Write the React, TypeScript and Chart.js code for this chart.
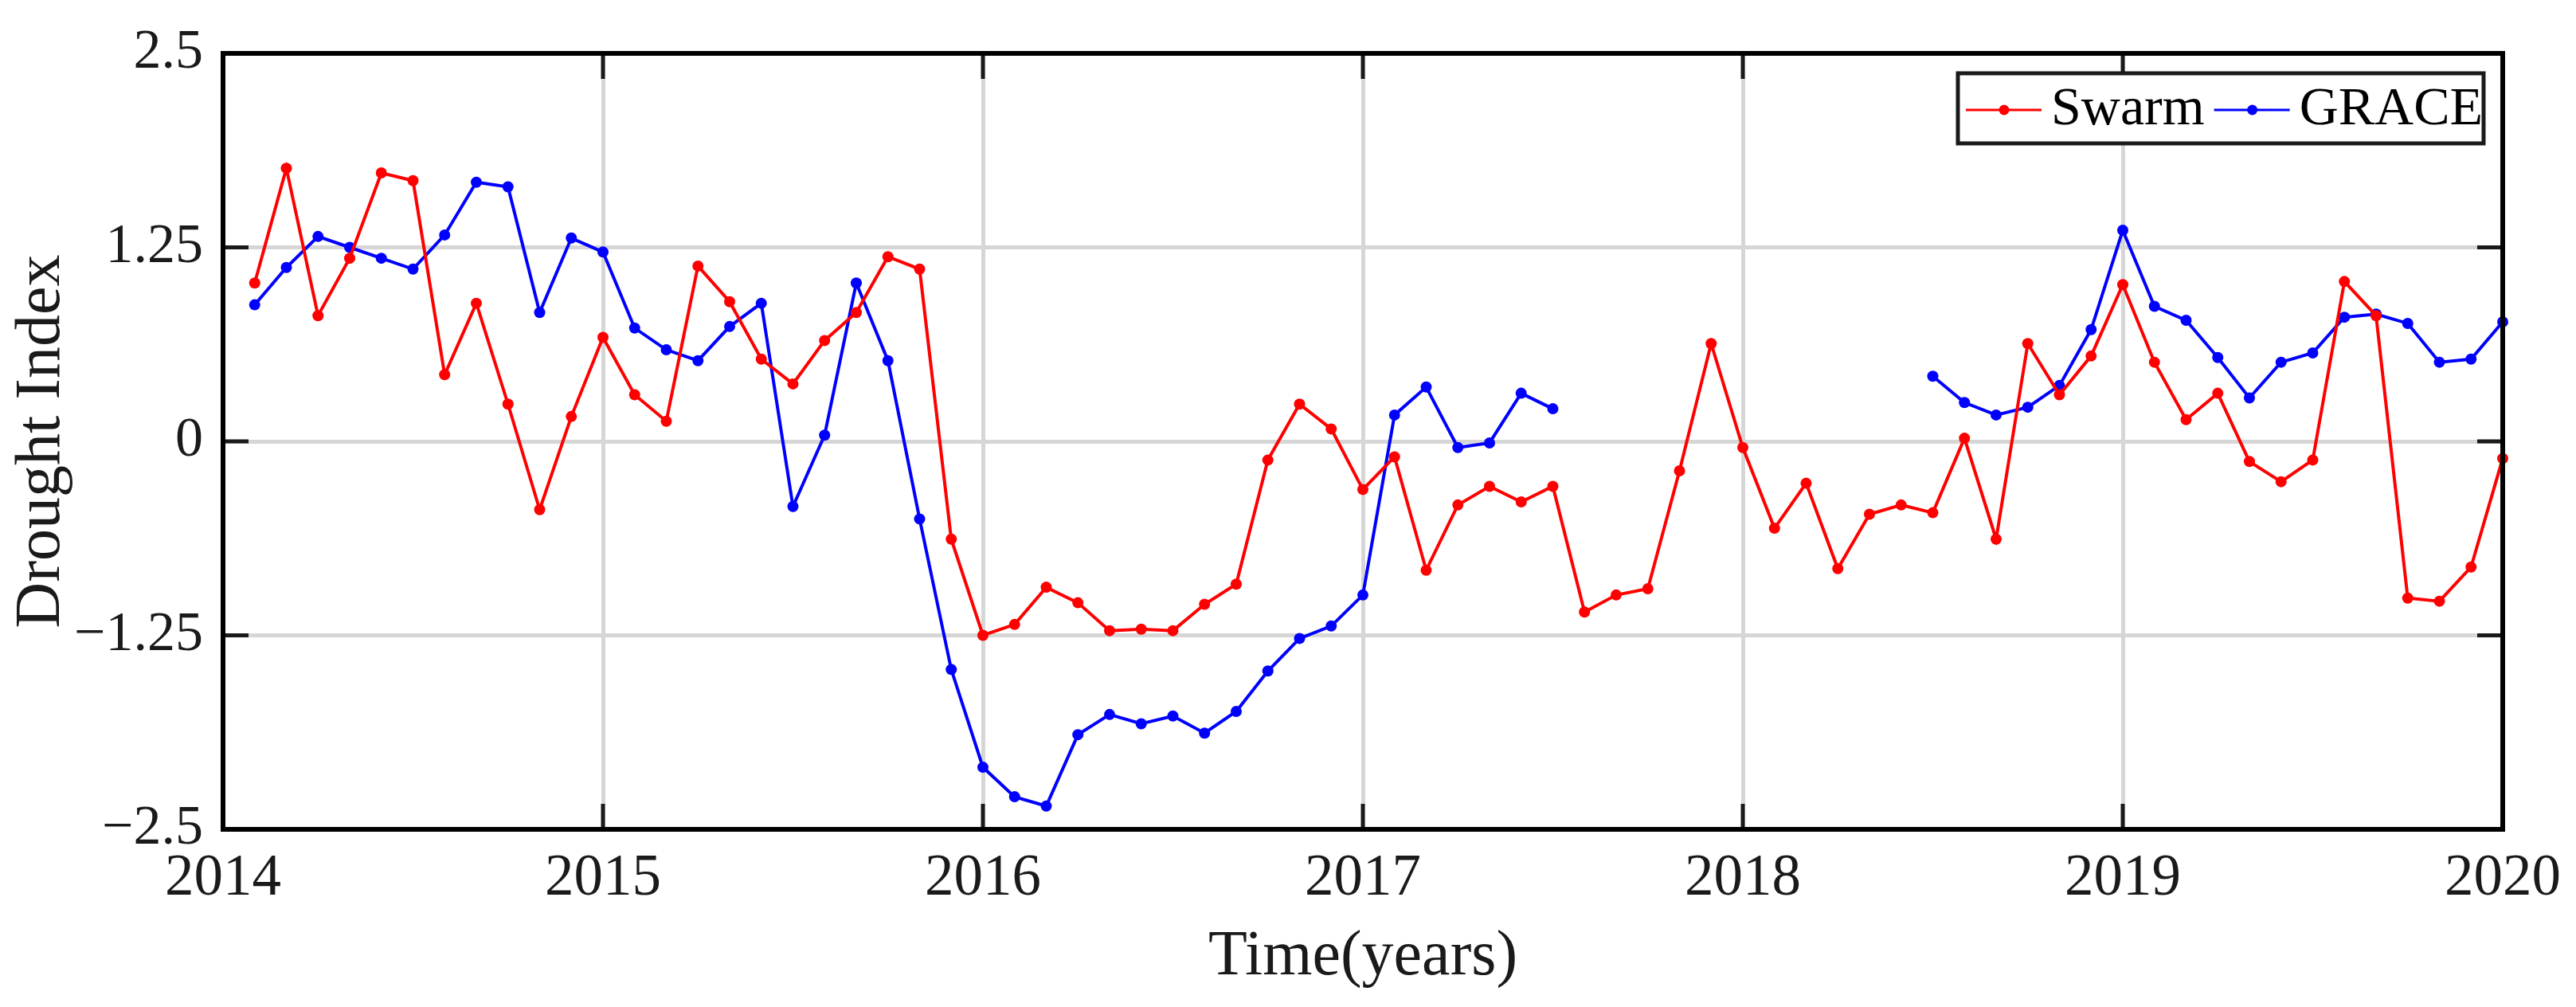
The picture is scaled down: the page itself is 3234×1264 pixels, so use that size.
import React, { useEffect, useRef } from "react";
import { Chart, registerables } from "chart.js";

Chart.register(...registerables);

// ---- Data (monthly, first value = Feb 2014, last = Jan 2020) ----
const startYear = 2014;
const firstMonth = 2; // February

const swarmValues: number[] = [
  1.02, 1.76, 0.81, 1.18, 1.73, 1.68, 0.43, 0.89, 0.24, -0.44, 0.16, 0.67,
  0.30, 0.13, 1.13, 0.90, 0.53, 0.37, 0.65, 0.83, 1.19, 1.11, -0.63, -1.25,
  -1.18, -0.94, -1.04, -1.22, -1.21, -1.22, -1.05, -0.92, -0.12, 0.24, 0.08, -0.31,
  -0.10, -0.83, -0.41, -0.29, -0.39, -0.29, -1.10, -0.99, -0.95, -0.19, 0.63, -0.04,
  -0.56, -0.27, -0.82, -0.47, -0.41, -0.46, 0.02, -0.63, 0.63, 0.30, 0.55, 1.01,
  0.51, 0.14, 0.31, -0.13, -0.26, -0.12, 1.03, 0.81, -1.01, -1.03, -0.81, -0.11,
];

const graceValues: (number | null)[] = [
  0.88, 1.12, 1.32, 1.25, 1.18, 1.11, 1.33, 1.67, 1.64, 0.83, 1.31, 1.22,
  0.73, 0.59, 0.52, 0.74, 0.89, -0.42, 0.04, 1.02, 0.52, -0.50, -1.47, -2.10,
  -2.29, -2.35, -1.89, -1.76, -1.82, -1.77, -1.88, -1.74, -1.48, -1.27, -1.19, -0.99,
  0.17, 0.35, -0.04, -0.01, 0.31, 0.21, null, null, null, null, null, null,
  null, null, null, null, null, 0.42, 0.25, 0.17, 0.22, 0.36, 0.72, 1.36,
  0.87, 0.78, 0.54, 0.28, 0.51, 0.57, 0.80, 0.82, 0.76, 0.51, 0.53, 0.77,
];

const seriesNames = ["Swarm", "GRACE"];
const seriesColors = ["#ff0000", "#0000ff"];

const xTickValues = [2014, 2015, 2016, 2017, 2018, 2019, 2020];
const xTickLabels = ["2014", "2015", "2016", "2017", "2018", "2019", "2020"];
const yTickValues = [-2.5, -1.25, 0, 1.25, 2.5];
const yTickLabels = ["\u22122.5", "\u22121.25", "0", "1.25", "2.5"];

const xTitle = "Time(years)";
const yTitle = "Drought Index";

const FONT = '"Liberation Serif", "Times New Roman", serif';

const toDecimalYear = (i: number) => startYear + (firstMonth - 1 + i) / 12;

const matlabPlugin = {
  id: "matlabBox",
  afterDraw(chart: any) {
    const { ctx, chartArea, scales } = chart;
    const { left, right, top, bottom } = chartArea;
    const x = scales.x;
    const y = scales.y;
    ctx.save();
    // inward ticks
    ctx.strokeStyle = "#1a1a1a";
    ctx.lineWidth = 5;
    const tl = 32;
    ctx.beginPath();
    for (const v of yTickValues) {
      const py = y.getPixelForValue(v);
      ctx.moveTo(left, py);
      ctx.lineTo(left + tl, py);
      ctx.moveTo(right, py);
      ctx.lineTo(right - tl, py);
    }
    for (const v of xTickValues) {
      const px = x.getPixelForValue(v);
      ctx.moveTo(px, bottom);
      ctx.lineTo(px, bottom - tl);
      ctx.moveTo(px, top);
      ctx.lineTo(px, top + tl);
    }
    ctx.stroke();
    // box
    ctx.strokeStyle = "#000";
    ctx.lineWidth = 6;
    ctx.strokeRect(left, top, right - left, bottom - top);

    // legend
    const bw = 660;
    const bh = 88;
    const bx = right - 24 - bw;
    const by = top + 25;
    ctx.fillStyle = "#fff";
    ctx.fillRect(bx, by, bw, bh);
    ctx.strokeStyle = "#1a1a1a";
    ctx.lineWidth = 5;
    ctx.strokeRect(bx, by, bw, bh);
    ctx.font = `68px ${FONT}`;
    ctx.textBaseline = "middle";
    ctx.textAlign = "left";
    const cy = by + bh / 2 + 2;
    let cx = bx + 10;
    chart.data.datasets.forEach((ds: any) => {
      const col = ds.borderColor;
      ctx.strokeStyle = col;
      ctx.lineWidth = 3;
      ctx.beginPath();
      ctx.moveTo(cx, cy);
      ctx.lineTo(cx + 95, cy);
      ctx.stroke();
      ctx.fillStyle = col;
      ctx.beginPath();
      ctx.arc(cx + 48, cy, 6.5, 0, Math.PI * 2);
      ctx.fill();
      ctx.fillStyle = "#000";
      ctx.fillText(ds.label, cx + 107, cy);
      const w = ctx.measureText(ds.label).width;
      cx = cx + 107 + w + 12;
    });
    ctx.restore();
  },
};

export default function App() {
  const ref = useRef<HTMLCanvasElement | null>(null);

  useEffect(() => {
    if (!ref.current) return;
    const swarmData = swarmValues.map((v, i) => ({ x: toDecimalYear(i), y: v }));
    const graceData = graceValues.map((v, i) => ({ x: toDecimalYear(i), y: v }));
    const makeDs = (label: string, color: string, data: any[]) => ({
      label,
      data,
      borderColor: color,
      backgroundColor: color,
      borderWidth: 4,
      pointRadius: 7,
      pointHoverRadius: 7,
      pointBackgroundColor: color,
      pointBorderColor: color,
      pointBorderWidth: 0,
      spanGaps: false,
      tension: 0,
      clip: false as any,
    });
    const chart = new Chart(ref.current, {
      type: "line",
      data: {
        datasets: [
          makeDs(seriesNames[0], seriesColors[0], swarmData),
          makeDs(seriesNames[1], seriesColors[1], graceData),
        ],
      },
      options: {
        responsive: false,
        animation: false,
        devicePixelRatio: 1,
        layout: { padding: { left: 0, top: 60, right: 92, bottom: 0 } },
        plugins: {
          legend: { display: false },
          tooltip: { enabled: false },
        },
        scales: {
          x: {
            type: "linear",
            min: 2014,
            max: 2020,
            afterBuildTicks: (scale: any) => {
              scale.ticks = xTickValues.map((v) => ({ value: v }));
            },
            afterFit: (scale: any) => {
              scale.height = 223;
            },
            ticks: {
              autoSkip: false,
              maxRotation: 0,
              padding: 19,
              color: "#1a1a1a",
              font: { family: FONT, size: 73 },
              callback: (v: any) => {
                const idx = xTickValues.indexOf(Number(v));
                return idx >= 0 ? xTickLabels[idx] : "";
              },
            },
            grid: { color: "#d6d6d6", lineWidth: 5, drawTicks: false },
            border: { display: false },
            title: {
              display: true,
              text: xTitle,
              color: "#1a1a1a",
              font: { family: FONT, size: 80 },
              padding: { top: 0, bottom: 14 },
            },
          },
          y: {
            type: "linear",
            min: -2.5,
            max: 2.5,
            afterBuildTicks: (scale: any) => {
              scale.ticks = yTickValues.map((v) => ({ value: v }));
            },
            afterFit: (scale: any) => {
              scale.width = 280;
            },
            ticks: {
              padding: 25,
              color: "#1a1a1a",
              font: { family: FONT, size: 70 },
              callback: (v: any) => {
                const idx = yTickValues.indexOf(Number(v));
                return idx >= 0 ? yTickLabels[idx] : "";
              },
            },
            grid: { color: "#d6d6d6", lineWidth: 5, drawTicks: false },
            border: { display: false },
            title: {
              display: true,
              text: yTitle,
              color: "#1a1a1a",
              font: { family: FONT, size: 80 },
              padding: { top: 5, bottom: 0 },
            },
          },
        },
      },
      plugins: [matlabPlugin],
    });
    return () => chart.destroy();
  }, []);

  return (
    <div style={{ position: "fixed", left: 0, top: 0, width: 3234, height: 1264, background: "#fff" }}>
      <canvas ref={ref} width={3234} height={1264} style={{ width: 3234, height: 1264, display: "block" }} />
    </div>
  );
}
